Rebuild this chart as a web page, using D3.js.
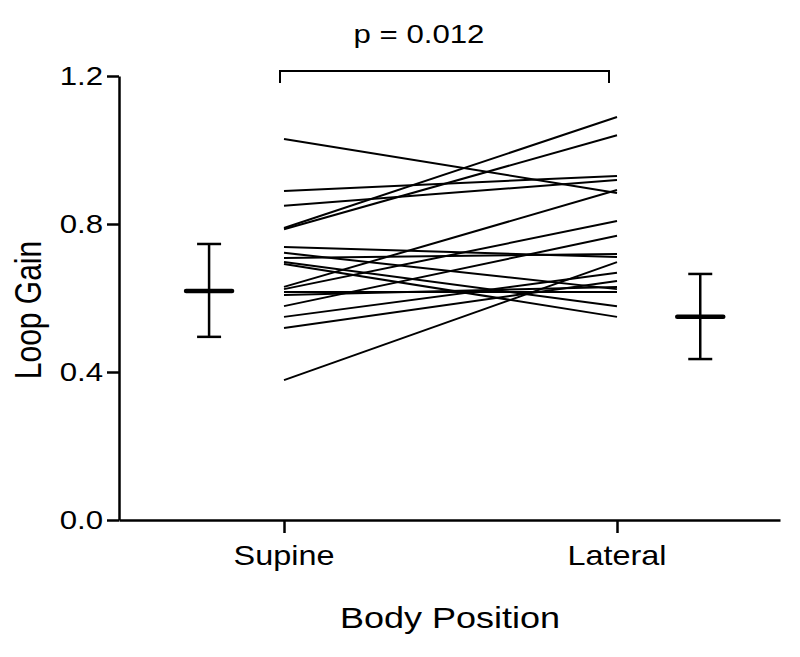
<!DOCTYPE html>
<html>
<head>
<meta charset="utf-8">
<script src="https://cdn.jsdelivr.net/npm/d3@7"></script>
<style>
  body { margin: 0; background: #fff; }
  text { font-family: "Liberation Sans", Arial, sans-serif; fill: #000; }
</style>
</head>
<body>
<div class="chart"></div>
<script>
// data
const positions = ["Supine", "Lateral"];
const supine  = [1.030, 0.889, 0.849, 0.789, 0.786, 0.738, 0.722, 0.708, 0.697, 0.692, 0.630, 0.624, 0.616, 0.608, 0.578, 0.549, 0.519, 0.378];
const lateral = [0.884, 0.930, 0.919, 1.089, 1.040, 0.711, 0.624, 0.719, 0.578, 0.549, 0.892, 0.808, 0.616, 0.630, 0.768, 0.668, 0.646, 0.697];
// lower, mean, upper
const supineSummary  = [0.495, 0.619, 0.746];
const lateralSummary = [0.435, 0.549, 0.665];
const yTicks = [0, 0.4, 0.8, 1.2];
const pLabel = "p = 0.012";
const yTitle = "Loop Gain";
const xTitle = "Body Position";

const w = 800, h = 657;
const sx = 1.2; // picture is a little wide

const svg = d3.select(".chart").append("svg").attr("width", w).attr("height", h);

const y = d3.scaleLinear().domain([0, 1.2]).range([520, 76]);
const x = d3.scaleLinear().domain([0, 1]).range([284, 617]);

const addText = (px, py, str, size, anchor, rot) => {
  svg.append("text")
    .attr("transform", `translate(${px},${py}) scale(${sx},1)` + (rot ? ` rotate(${rot})` : ""))
    .attr("text-anchor", anchor)
    .attr("font-size", size)
    .text(str);
};

// y axis
const yAxis = svg.append("g")
  .attr("transform", "translate(119,0)")
  .call(d3.axisLeft(y).tickValues(yTicks).tickFormat(d3.format(".1f")).tickSize(12).tickSizeOuter(0));
yAxis.selectAll("path, line").attr("stroke", "#000").attr("stroke-width", 2.5);
yAxis.selectAll("text").remove();
yTicks.forEach(t => addText(103, y(t) + 9, d3.format(".1f")(t), 26, "end"));

// x axis
const xAxisScale = x.copy().domain([x.invert(119), x.invert(780)]).range([119, 780]);
const xAxis = svg.append("g")
  .attr("transform", "translate(0,520)")
  .call(d3.axisBottom(xAxisScale).tickValues([0, 1]).tickSize(13).tickSizeOuter(0));
xAxis.selectAll("path, line").attr("stroke", "#000").attr("stroke-width", 2.5);
xAxis.selectAll("text").remove();
positions.forEach((p, i) => addText(x(i), 565, p, 27, "middle"));

// titles
addText(41, 310, yTitle, 30, "middle", -90);
addText(450, 628, xTitle, 30, "middle");

// paired lines
const pairs = supine.map((s, i) => [s, lateral[i]]);
svg.append("g")
  .selectAll("line")
  .data(pairs)
  .enter()
  .append("line")
  .attr("x1", x(0))
  .attr("x2", x(1))
  .attr("y1", d => y(d[0]))
  .attr("y2", d => y(d[1]))
  .attr("stroke", "#000")
  .attr("stroke-width", 2);

// mean +/- bars
const summaries = [
  { pos: -0.225, v: supineSummary },
  { pos: 1.25, v: lateralSummary }
];
const sg = svg.append("g").attr("stroke", "#000");
summaries.forEach(s => {
  const cx = x(s.pos);
  sg.append("line").attr("x1", cx).attr("x2", cx).attr("y1", y(s.v[0])).attr("y2", y(s.v[2])).attr("stroke-width", 2.5);
  sg.append("line").attr("x1", cx - 12).attr("x2", cx + 12).attr("y1", y(s.v[0])).attr("y2", y(s.v[0])).attr("stroke-width", 2.5);
  sg.append("line").attr("x1", cx - 12).attr("x2", cx + 12).attr("y1", y(s.v[2])).attr("y2", y(s.v[2])).attr("stroke-width", 2.5);
  sg.append("line").attr("x1", cx - 23).attr("x2", cx + 23).attr("y1", y(s.v[1])).attr("y2", y(s.v[1]))
    .attr("stroke-width", 4.5).attr("stroke-linecap", "round");
});

// significance bracket
svg.append("path")
  .attr("d", `M${x(0) - 4},83 V71 H${x(0) + 325} V83`)
  .attr("fill", "none")
  .attr("stroke", "#000")
  .attr("stroke-width", 2);
addText(419, 43, pLabel, 26, "middle");
</script>
</body>
</html>
